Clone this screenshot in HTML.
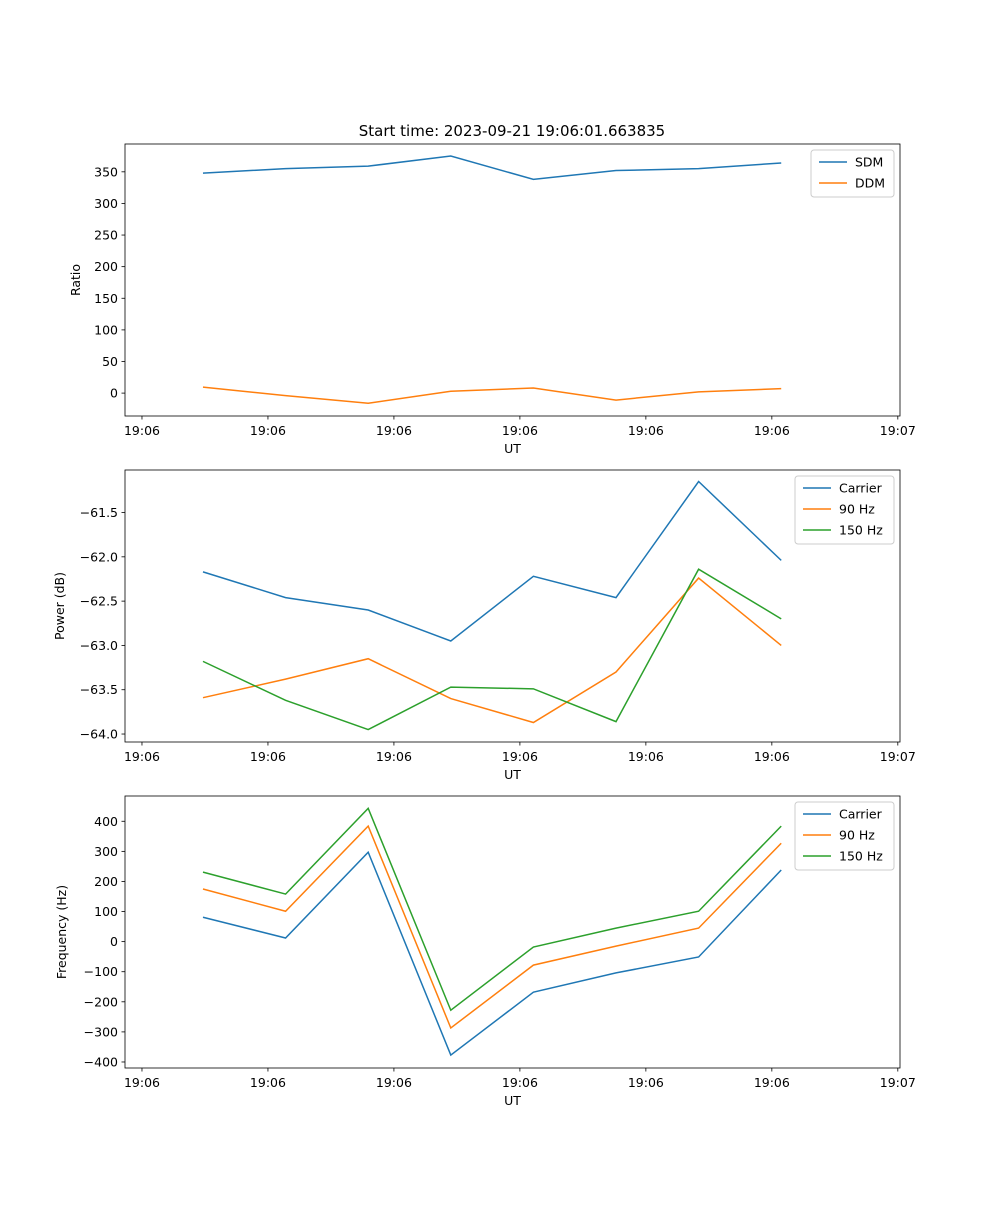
<!DOCTYPE html>
<html><head><meta charset="utf-8"><style>
body{margin:0;background:#fff;font-family:"Liberation Sans","DejaVu Sans",sans-serif}
svg text{font-family:"DejaVu Sans","Liberation Sans",sans-serif;font-size:12.5px;fill:#000}
</style></head><body>
<svg id="fig" width="1000" height="1200" xmlns="http://www.w3.org/2000/svg">
<text x="512" y="136" text-anchor="middle" style="font-size:15px">Start time: 2023-09-21 19:06:01.663835</text>
</svg>
<script>
const sampleIdx=[0,1,2,3,4,5,6,7];
const xTickIdx=[-0.7385,0.7865,2.3115,3.8365,5.3615,6.8865,8.4115];
const xTickLabels=["19:06","19:06","19:06","19:06","19:06","19:06","19:07"];
const sdm=[348,355,359,375,338,352,355,364];
const ddm=[9.5,-4,-16,3,8,-11,2,7];
const pCarrier=[-62.17,-62.46,-62.6,-62.95,-62.22,-62.46,-61.15,-62.04];
const p90=[-63.59,-63.38,-63.15,-63.6,-63.87,-63.3,-62.24,-63.0];
const p150=[-63.18,-63.62,-63.95,-63.47,-63.49,-63.86,-62.14,-62.7];
const fCarrier=[81,12,297,-377,-168,-104,-51,238];
const f90=[175,101,384,-287,-78,-15,45,327];
const f150=[231,158,443,-228,-18,45,101,384];
const ratioTicks=[0,50,100,150,200,250,300,350];
const powerTicks=[-64.0,-63.5,-63.0,-62.5,-62.0,-61.5];
const freqTicks=[-400,-300,-200,-100,0,100,200,300,400];
const C1="#1f77b4",C2="#ff7f0e",C3="#2ca02c";
const svg=document.getElementById('fig');
const NS="http://www.w3.org/2000/svg";
function mk(tag,attrs,parent){const e=document.createElementNS(NS,tag);for(const k in attrs)e.setAttribute(k,attrs[k]);(parent||svg).appendChild(e);return e;}
const L=125,R=900,X0=-0.944,X1=8.438;
function xs(i){return L+(i-X0)/(X1-X0)*(R-L);}
function panel(name,top,bot,ymin,ymax,ticks,fmt,ylabel,ylx,series,legW){
  const g=mk('g',{});
  
  
  const ys=v=>bot-(v-ymin)/(ymax-ymin)*(bot-top);
  ticks.forEach(t=>{const y=ys(t);
    mk('line',{x1:L-3.5,x2:L,y1:y,y2:y,stroke:'#000','stroke-width':0.8},g);
    const tx=mk('text',{x:L-7,y:y+4.5,'text-anchor':'end'},g);tx.textContent=fmt(t);
    
    });
  xTickIdx.forEach((t,k)=>{const x=xs(t);
    mk('line',{x1:x,x2:x,y1:bot,y2:bot+3.5,stroke:'#000','stroke-width':0.8},g);
    const tx=mk('text',{x:x,y:bot+19,'text-anchor':'middle'},g);tx.textContent=xTickLabels[k];
    
    });
  series.forEach(s=>{const p=mk('polyline',{points:sampleIdx.map((i,k)=>xs(i)+','+ys(s.v[k])).join(' '),fill:'none',stroke:s.c,'stroke-width':1.5},g);
    
    });
  mk('rect',{x:L,y:top,width:R-L,height:bot-top,fill:'none',stroke:'#000','stroke-width':0.8},g);
  const xl=mk('text',{x:(L+R)/2,y:bot+37,'text-anchor':'middle'},g);xl.textContent='UT';
  
  
  const yl=mk('text',{x:ylx,y:(top+bot)/2,'text-anchor':'middle',transform:`rotate(-90 ${ylx} ${(top+bot)/2})`},g);yl.textContent=ylabel;
  
  
  const lg=mk('g',{},g);
  
  
  const lx=R-6-legW,ly=top+6;
  mk('rect',{x:lx,y:ly,width:legW,height:5+21*series.length,fill:'#fff',stroke:'#ccc',rx:3},lg);
  series.forEach((s,k)=>{const yy=ly+12+21*k;
    mk('line',{x1:lx+8,x2:lx+36,y1:yy,y2:yy,stroke:s.c,'stroke-width':1.5},lg);
    const t=mk('text',{x:lx+44,y:yy+4.5},lg);t.textContent=s.n;
    
    });
}
panel('ratio',144,416,-36.2,394,ratioTicks,v=>String(v),'Ratio',80,[{n:'SDM',v:sdm,c:C1},{n:'DDM',v:ddm,c:C2}],83);
panel('power',470,742,-64.09,-61.02,powerTicks,v=>'\u2212'+Math.abs(v).toFixed(1),'Power (dB)',64,[{n:'Carrier',v:pCarrier,c:C1},{n:'90 Hz',v:p90,c:C2},{n:'150 Hz',v:p150,c:C3}],99);
panel('frequency',796,1068,-420,484,freqTicks,v=>v<0?'\u2212'+Math.abs(v):String(v),'Frequency (Hz)',66,[{n:'Carrier',v:fCarrier,c:C1},{n:'90 Hz',v:f90,c:C2},{n:'150 Hz',v:f150,c:C3}],99);
</script>
</body></html>
